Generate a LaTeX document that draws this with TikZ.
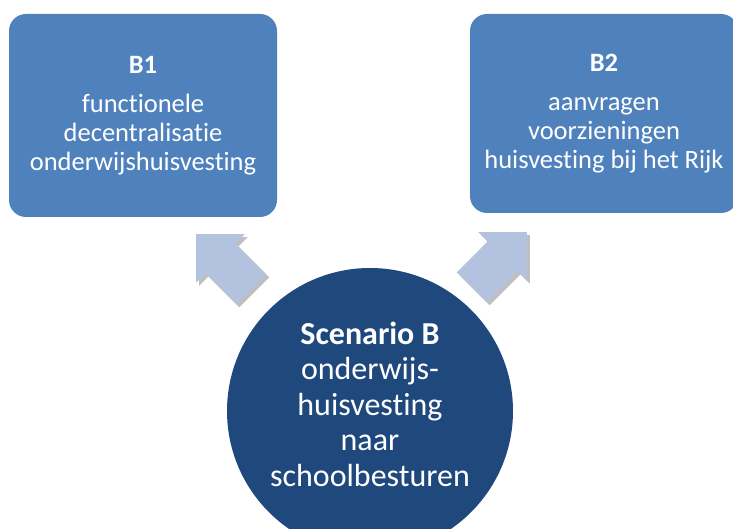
\documentclass[tikz,border=0pt]{standalone}
\usepackage{fontspec}
\setmainfont{Carlito}[Ligatures=NoCommon]
\usetikzlibrary{shapes.arrows,shadows}
\definecolor{boxblue}{HTML}{4F81BD}
\definecolor{circleblue}{HTML}{1F497D}
\definecolor{arrowblue}{HTML}{B3C3DF}
\begin{document}
\begin{tikzpicture}
[x=1pt,y=1pt,
  boxDecorate/.style={shape=rectangle,rounded corners=17pt,fill=boxblue,text=white,
    align=center,minimum width=268pt,font=\fontsize{26.5}{29}\selectfont},
  circleDecorate/.style={shape=circle,fill=circleblue,minimum size=286pt,inner sep=0pt},
  textDecorate/.style={text=white,align=center,font=\fontsize{32}{35.5}\selectfont},
  arrowDecorate/.style={shape=single arrow,fill=arrowblue,single arrow tip angle=90,
    single arrow head extend=13pt,inner ysep=21pt,inner xsep=0pt,minimum height=78pt,
    anchor=tip,drop shadow={shadow xshift=3pt,shadow yshift=-3pt,opacity=0.25,fill=black}}]
\useasboundingbox (0,0) rectangle (733,529);
%% blocks
\node (b1) at (143,413.5) [boxDecorate,minimum height=203pt]
  {\textbf{B1}\\[10pt]functionele\\decentralisatie\\onderwijshuisvesting};
\node (b2) at (604,415.5) [boxDecorate,minimum height=199pt]
  {\textbf{B2}\\[10pt]aanvragen\\voorzieningen\\huisvesting bij het Rijk};
%% scenario
\node (scenario) at (370,118) [circleDecorate] {};
\node (scenariotekst) at (370,125) [textDecorate]
  {\textbf{Scenario B}\\onderwijs-\\huisvesting\\naar\\schoolbesturen};
%% arrows
\foreach \pijlname/\x/\y/\hoek in {pijl1/196/295/135, pijl2/527/297/45}
{
  \node (\pijlname) at (\x,\y) [arrowDecorate,rotate=\hoek] {};
}
\end{tikzpicture}
\end{document}
